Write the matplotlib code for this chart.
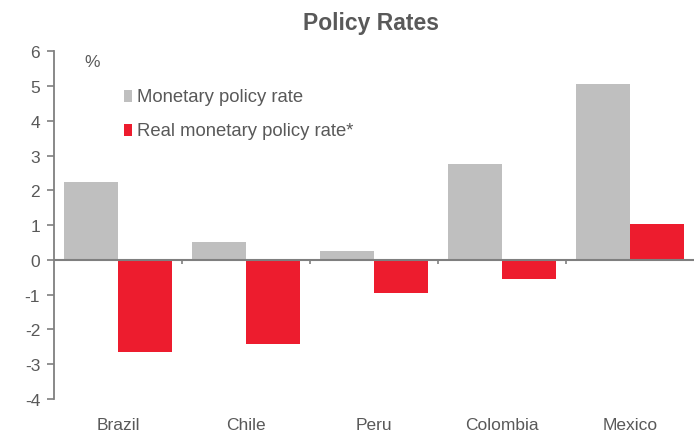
import matplotlib
matplotlib.use("Agg")
import matplotlib.pyplot as plt
import matplotlib.patches as mpatches
import numpy as np

categories = ["Brazil", "Chile", "Peru", "Colombia", "Mexico"]
policy_rate = [2.25, 0.50, 0.25, 2.75, 5.05]
real_rate = [-2.65, -2.43, -0.94, -0.56, 1.02]
series_labels = ["Monetary policy rate", "Real monetary policy rate*"]
yticks = [-4, -3, -2, -1, 0, 1, 2, 3, 4, 5, 6]

plt.rcParams['font.family'] = ['Liberation Sans', 'DejaVu Sans']
TXT = '#595959'
AX = '#7f7f7f'
GRAY = '#bfbfbf'
RED = '#ed1c2e'

fig = plt.figure(figsize=(6.94, 4.35), dpi=100)
ax = fig.add_axes([0.078, 0.0805, 0.922, 0.7995])

x = np.arange(len(categories))
w = 0.42
ax.bar(x - w/2, policy_rate, width=w, color=GRAY, edgecolor='none', zorder=2)
ax.bar(x + w/2, real_rate, width=w, color=RED, edgecolor='none', zorder=2)

ax.set_xlim(-0.5, len(categories) - 0.5)
ax.set_ylim(-4, 6)
ax.set_yticks(yticks)
ax.set_yticklabels([str(t) for t in yticks])
ax.tick_params(axis='y', direction='out', length=5, width=1.2, color=AX,
               labelsize=12.5, labelcolor=TXT, pad=5)
ax.set_xticks(x)
ax.set_xticklabels(categories)
ax.tick_params(axis='x', length=0, labelsize=12.5, labelcolor=TXT, pad=13)

for s in ['top', 'right', 'bottom']:
    ax.spines[s].set_visible(False)
ax.spines['left'].set_color(AX)
ax.spines['left'].set_linewidth(1.3)
ax.axhline(0, color=AX, linewidth=1.5, zorder=3)
ax.vlines(np.arange(len(categories) - 1) + 0.5, -0.12, 0, color=AX, linewidth=1.2, zorder=3)

ax.text(0.047, 0.97, '%', transform=ax.transAxes, fontsize=12.5, color=TXT, va='center', ha='left')

# legend
lx = 0.109
mw, mh = 0.012, 0.036
for i, (lab, col) in enumerate(zip(series_labels, [GRAY, RED])):
    yy = 0.871 - i * 0.098
    ax.add_patch(mpatches.Rectangle((lx, yy - mh/2), mw, mh, transform=ax.transAxes,
                                    facecolor=col, edgecolor='none', zorder=4, clip_on=False))
    ax.text(lx + mw + 0.008, yy, lab, transform=ax.transAxes, fontsize=13.3, color=TXT, va='center', ha='left')

fig.text(0.535, 0.946, 'Policy Rates', fontsize=16.5, fontweight='bold', color=TXT, ha='center', va='center')

fig.savefig('out.png', dpi=100)
